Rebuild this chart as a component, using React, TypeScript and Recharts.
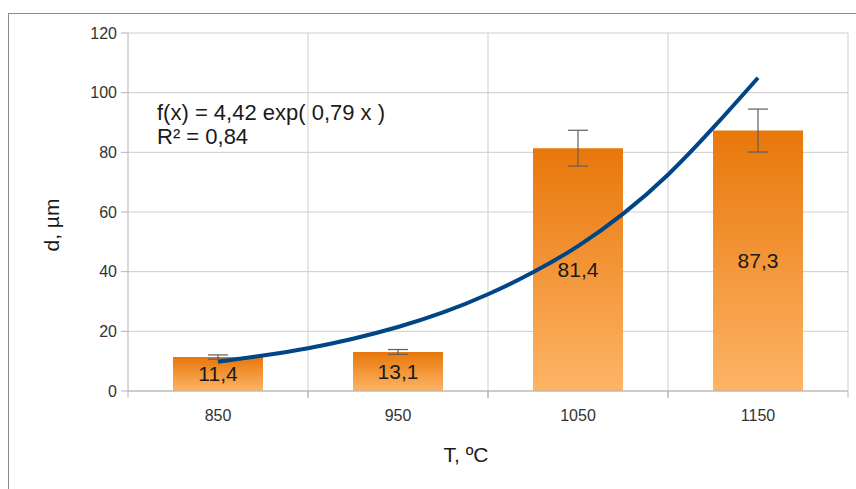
import React from 'react';
import { ComposedChart, Bar, Line, XAxis, YAxis, CartesianGrid, ErrorBar, LabelList } from 'recharts';

const temperatures = ['850', '950', '1050', '1150'];
const diameters = [11.4, 13.1, 81.4, 87.3];
const errors = [0.7, 0.8, 6.0, 7.2];
const yTicks = [0, 20, 40, 60, 80, 100, 120];

// trend curve at quarter-category positions (1 = 850 ... 4 = 1150)
const trendX = [1, 1.25, 1.5, 1.75, 2, 2.25, 2.5, 2.75, 3, 3.25, 3.5, 3.75, 4];
const trendY = [9.8, 11.8, 14.2, 17.4, 21.3, 26.1, 32.2, 39.6, 48.2, 59, 72, 88, 105];

const data = temperatures.map((t, i) => ({ t, d: diameters[i], err: errors[i] }));
const trendData = trendX.map((x, i) => ({ x, y: trendY[i] }));

const W = 856;
const H = 489;
const MARGIN = { top: 33, right: 8, left: 68, bottom: 68 };
const YAXIS_W = 60;
const PLOT_LEFT = MARGIN.left + YAXIS_W;
const PLOT_W = W - PLOT_LEFT - MARGIN.right;
const BAND = PLOT_W / temperatures.length;
const FONT = '"Liberation Sans", Arial, sans-serif';
const AXIS_COLOR = '#b3b3b3';
const TICK_SIZE = 7;
const TICK_MARGIN = 10;

const fmt = (v: any) => String(v).replace('.', ',');

const XTick = (props: any) => {
  const { x, y, payload } = props;
  const y1 = y - TICK_MARGIN - TICK_SIZE;
  const y2 = y - TICK_MARGIN;
  return (
    <g>
      <line x1={x - BAND / 2} x2={x - BAND / 2} y1={y1} y2={y2} stroke={AXIS_COLOR} />
      <line x1={x + BAND / 2} x2={x + BAND / 2} y1={y1} y2={y2} stroke={AXIS_COLOR} />
      <text x={x} y={y + 13} textAnchor="middle" fontSize={16} fill="#333" fontFamily={FONT}>
        {payload.value}
      </text>
    </g>
  );
};

export default function App() {
  return (
    <div style={{ position: 'absolute', left: 0, top: 0, width: W, height: H, overflow: 'hidden', background: '#fff', fontFamily: FONT }}>
      <div style={{ position: 'absolute', left: 8, top: 13, width: 900, height: 520, border: '1px solid #8c8c8c', boxSizing: 'border-box' }} />
      <div style={{ position: 'absolute', left: 0, top: 0 }}>
        <ComposedChart width={W} height={H} data={data} margin={MARGIN}>
          <defs>
            <linearGradient id="barGrad" x1="0" y1="0" x2="0" y2="1">
              <stop offset="0%" stopColor="#e8770a" />
              <stop offset="100%" stopColor="#fdb466" />
            </linearGradient>
          </defs>
          <CartesianGrid
            stroke="#cdcdcd"
            verticalCoordinatesGenerator={({ offset }: any) =>
              temperatures.map((_, i) => offset.left + ((i + 1) * offset.width) / temperatures.length)
            }
          />
          <XAxis
            dataKey="t"
            axisLine={{ stroke: AXIS_COLOR }}
            tickLine={false}
            tickSize={TICK_SIZE}
            tickMargin={TICK_MARGIN}
            tick={<XTick />}
            height={30}
            interval={0}
          />
          <XAxis
            xAxisId="trend"
            dataKey="x"
            type="number"
            domain={[0.5, 4.5]}
            allowDataOverflow
            hide
          />
          <YAxis
            width={YAXIS_W}
            domain={[0, 120]}
            ticks={yTicks}
            axisLine={{ stroke: AXIS_COLOR }}
            tickLine={{ stroke: AXIS_COLOR }}
            tickSize={TICK_SIZE}
            tickMargin={4}
            tick={{ fontSize: 16, fill: '#333', fontFamily: FONT }}
          />
          <Bar dataKey="d" barSize={90} fill="url(#barGrad)" isAnimationActive={false}>
            <ErrorBar dataKey="err" width={10} stroke="#5e5e5e" strokeWidth={1.2} direction="y" />
            <LabelList dataKey="d" position="center" formatter={fmt} fill="#1a1a1a" fontSize={21} fontFamily={FONT} />
          </Bar>
          <Line
            xAxisId="trend"
            data={trendData}
            dataKey="y"
            type="basis"
            stroke="#004586"
            strokeWidth={4}
            dot={false}
            activeDot={false}
            isAnimationActive={false}
          />
        </ComposedChart>
      </div>
      <div style={{ position: 'absolute', left: 157, top: 101, fontSize: 22, lineHeight: '24px', color: '#1a1a1a', whiteSpace: 'pre' }}>
        {'f(x) = 4,42 exp( 0,79 x )\nR² = 0,84'}
      </div>
      <div style={{ position: 'absolute', left: 466, top: 455, fontSize: 21, color: '#1a1a1a', whiteSpace: 'pre', transform: 'translate(-50%, -50%)' }}>T, ºC</div>
      <div style={{ position: 'absolute', left: 52, top: 225, fontSize: 21, color: '#1a1a1a', whiteSpace: 'pre', transform: 'translate(-50%, -50%) rotate(-90deg)' }}>d, µm</div>
    </div>
  );
}
